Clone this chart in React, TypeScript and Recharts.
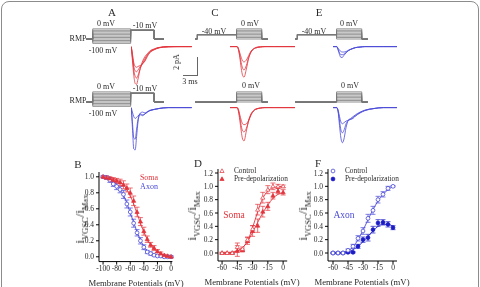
import React from 'react';
import { LineChart, Line, XAxis, YAxis, ComposedChart, Scatter, ErrorBar } from 'recharts';

const SERIF = '"Liberation Serif", "Times New Roman", serif';
const INK = '#2a2a2a';
const RED = '#e2343c';
const BLUE = '#4a4ad8';
const NAVY = '#1c1cc6';
const GRAY = '#777';

// ---- voltage protocols (ms / mV) ----
const RMP = -70;
const PRE_STEP = -40;
const TEST_STEP = -10;
const LEVELS_A = [-100, -90, -80, -70, -60, -50, -40, -30, -20, -10, 0];
const LEVELS_C = [-70, -60, -50, -40, -30, -20, -10, 0];
const PROTO_A_T = [0, 1.43, 1.43, 9.57, 9.57, 14.6, 14.6, 16.7];
const PROTO_C_T = [0, 0.5, 0.5, 8.9, 8.9, 14.3, 14.3, 15.6];

// ---- current traces (pA) sampled at TRACE_T (ms from step onset) ----
const TRACE_T = [-1.5, 0, 0.3, 0.6, 0.9, 1.2, 1.5, 2, 2.5, 3, 3.5, 4, 5, 6, 8, 10, 13];
const somaA1 = [0, 0, -1.5, -3.2, -4.1, -4.2, -3.6, -2.4, -1.6, -1.1, -0.8, -0.5, -0.25, -0.1, -0.05, 0, 0];
const somaA2 = [0, 0, -1.2, -2.6, -3.3, -3.5, -3.2, -2.4, -1.8, -1.3, -0.9, -0.6, -0.3, -0.1, 0, 0, 0];
const somaA3 = [0, 0, -1.0, -2.2, -2.7, -2.8, -2.6, -2.2, -1.9, -1.5, -1.0, -0.65, -0.3, -0.12, 0, 0, 0];
const somaA4 = [0, 0, -0.8, -1.8, -2.2, -2.3, -2.2, -2.1, -1.9, -1.6, -1.1, -0.7, -0.35, -0.15, 0, 0, 0];
const axonA1 = [0, 0, -2.2, -4.6, -4.7, -3.2, -1.6, -0.6, -0.5, -0.6, -0.45, -0.35, -0.2, -0.1, 0, 0, 0];
const axonA2 = [0, 0, -1.6, -3.4, -3.5, -2.4, -1.3, -0.7, -0.8, -0.7, -0.5, -0.35, -0.2, -0.1, 0, 0, 0];
const axonA3 = [0, 0, -0.5, -1.0, -1.2, -1.1, -0.9, -0.8, -0.9, -0.7, -0.5, -0.3, -0.2, -0.1, 0, 0, 0];
const somaPre1 = [0, 0, -0.3, -1.2, -2.4, -3.2, -3.4, -2.5, -1.3, -0.6, -0.3, -0.15, -0.05, 0, 0, 0, 0];
const somaPre2 = [0, 0, -0.3, -1.0, -1.8, -2.4, -2.6, -2.1, -1.2, -0.6, -0.3, -0.15, -0.05, 0, 0, 0, 0];
const somaPre3 = [0, 0, -0.2, -0.7, -1.2, -1.6, -1.7, -1.5, -1.0, -0.5, -0.25, -0.1, 0, 0, 0, 0, 0];
const somaCtl1 = [0, 0, -0.4, -1.4, -2.6, -3.5, -3.7, -2.6, -1.4, -0.7, -0.35, -0.15, -0.05, 0, 0, 0, 0];
const somaCtl2 = [0, 0, -0.3, -1.1, -2.0, -2.6, -2.7, -2.3, -1.5, -0.8, -0.4, -0.2, -0.05, 0, 0, 0, 0];
const somaCtl3 = [0, 0, -0.2, -0.8, -1.4, -1.8, -1.9, -1.8, -1.4, -0.8, -0.4, -0.2, -0.05, 0, 0, 0, 0];
const axonPre1 = [0, 0, -0.4, -0.9, -1.2, -1.2, -1.0, -0.7, -0.45, -0.3, -0.2, -0.12, -0.05, 0, 0, 0, 0];
const axonPre2 = [0, 0, -0.3, -0.7, -0.9, -0.9, -0.85, -0.65, -0.45, -0.3, -0.2, -0.12, -0.05, 0, 0, 0, 0];
const axonPre3 = [0, 0, -0.2, -0.4, -0.55, -0.6, -0.6, -0.55, -0.4, -0.3, -0.2, -0.1, -0.05, 0, 0, 0, 0];
const axonCtl1 = [0, 0, -0.5, -2.0, -3.4, -3.9, -3.6, -2.2, -1.4, -1.2, -1.0, -0.8, -0.5, -0.3, -0.1, 0, 0];
const axonCtl2 = [0, 0, -0.4, -1.5, -2.5, -2.8, -2.6, -1.8, -1.4, -1.3, -1.1, -0.9, -0.55, -0.3, -0.1, 0, 0];
const axonCtl3 = [0, 0, -0.3, -1.0, -1.6, -1.8, -1.7, -1.5, -1.4, -1.3, -1.2, -0.95, -0.6, -0.35, -0.1, 0, 0];

// ---- panel B: steady-state inactivation ----
const V_B = [-100, -95, -90, -85, -80, -75, -70, -65, -60, -55, -50, -45, -40, -35, -30, -25, -20, -15, -10, -5, 0];
const somaB = [1.0, 0.99, 0.98, 0.96, 0.95, 0.93, 0.9, 0.86, 0.8, 0.7, 0.56, 0.44, 0.32, 0.22, 0.15, 0.11, 0.07, 0.04, 0.02, 0.01, 0.0];
const somaBErr = [0.01, 0.02, 0.02, 0.03, 0.03, 0.04, 0.05, 0.05, 0.06, 0.06, 0.06, 0.05, 0.05, 0.04, 0.03, 0.03, 0.02, 0.02, 0.01, 0.01, 0.01];
const somaBFit = [1.0, 0.995, 0.99, 0.98, 0.96, 0.94, 0.9, 0.84, 0.76, 0.66, 0.54, 0.42, 0.31, 0.22, 0.15, 0.1, 0.06, 0.04, 0.02, 0.01, 0.0];
const axonB = [1.0, 0.99, 0.96, 0.91, 0.88, 0.84, 0.78, 0.66, 0.56, 0.42, 0.3, 0.2, 0.12, 0.06, 0.04, 0.02, 0.01, 0.01, 0.0, 0.0, 0.0];
const axonBErr = [0.01, 0.02, 0.03, 0.03, 0.04, 0.04, 0.05, 0.05, 0.05, 0.05, 0.04, 0.04, 0.03, 0.02, 0.02, 0.01, 0.01, 0.01, 0.01, 0.01, 0.01];
const axonBFit = [1.0, 0.99, 0.97, 0.94, 0.9, 0.85, 0.77, 0.67, 0.55, 0.43, 0.31, 0.21, 0.13, 0.08, 0.04, 0.02, 0.01, 0.0, 0.0, 0.0, 0.0];

// ---- panels D / F: activation ----
const V_DF = [-60, -55, -50, -45, -40, -35, -30, -25, -20, -15, -10, -5, 0];
const somaCtl = [0, 0, 0, 0.09, 0.06, 0.2, 0.36, 0.65, 0.83, 0.95, 1.0, 1.0, 1.0];
const somaCtlErr = [0.01, 0.01, 0.01, 0.06, 0.03, 0.04, 0.05, 0.08, 0.08, 0.06, 0.05, 0.03, 0.02];
const somaCtlFit = [0, 0, 0.01, 0.03, 0.08, 0.18, 0.38, 0.62, 0.82, 0.93, 0.98, 0.995, 1.0];
const somaPre = [0, 0, 0, 0.03, 0.04, 0.18, 0.33, 0.41, 0.62, 0.7, 0.86, 0.93, 0.91];
const somaPreErr = [0.01, 0.01, 0.01, 0.08, 0.02, 0.05, 0.08, 0.1, 0.08, 0.06, 0.05, 0.04, 0.04];
const somaPreFit = [0, 0, 0.01, 0.03, 0.08, 0.17, 0.31, 0.46, 0.6, 0.72, 0.82, 0.88, 0.9];
const axonCtl = [0, 0, 0, 0.04, 0.1, 0.22, 0.33, 0.52, 0.64, 0.8, 0.88, 0.97, 1.0];
const axonCtlErr = [0.01, 0.01, 0.01, 0.02, 0.03, 0.04, 0.05, 0.06, 0.06, 0.05, 0.04, 0.03, 0.01];
const axonCtlFit = [0, 0.005, 0.01, 0.03, 0.09, 0.2, 0.34, 0.5, 0.65, 0.78, 0.88, 0.95, 1.0];
const axonPre = [0, 0, 0, 0.01, 0.01, 0.1, 0.2, 0.23, 0.35, 0.45, 0.46, 0.43, 0.38];
const axonPreErr = [0.01, 0.01, 0.01, 0.01, 0.01, 0.03, 0.04, 0.05, 0.05, 0.05, 0.04, 0.04, 0.03];
const axonPreFit = [0, 0, 0.01, 0.02, 0.05, 0.1, 0.17, 0.25, 0.33, 0.4, 0.43, 0.43, 0.4];

const MS = 4.67; // px per ms
const MV = 0.145; // px per mV
const PA = 9; // px per pA

function Txt({ x, y, s = 8, c = INK, left = false, children }: any) {
  return (
    <div style={{ position: 'absolute', left: x, top: y, transform: left ? 'translate(0,-50%)' : 'translate(-50%,-50%)', willChange: 'transform', fontFamily: SERIF, fontSize: s, color: c, whiteSpace: 'nowrap', lineHeight: 1 }}>
      {children}
    </div>
  );
}

function Protocol({ left, zeroY, times, levels, pattern }: any) {
  const data = times.map((t: number, i: number) => {
    const row: any = { t };
    levels.forEach((L: number, j: number) => { row['l' + j] = pattern(L)[i]; });
    return row;
  });
  const tMax = times[times.length - 1];
  const yMin = -108, yMax = 6;
  return (
    <div style={{ position: 'absolute', left, top: zeroY - yMax * MV }}>
      <LineChart width={tMax * MS} height={(yMax - yMin) * MV} data={data} margin={{ top: 0, right: 0, bottom: 0, left: 0 }}>
        <XAxis dataKey="t" type="number" domain={[0, tMax]} hide />
        <YAxis type="number" domain={[yMin, yMax]} hide />
        {levels.map((_L: number, j: number) => (
          <Line key={j} dataKey={'l' + j} type="linear" stroke={GRAY} strokeWidth={0.8} dot={false} isAnimationActive={false} />
        ))}
      </LineChart>
    </div>
  );
}

function Traces({ left, baseY, t0, t1, traces, color }: any) {
  const data = TRACE_T.map((t, i) => {
    const row: any = { t };
    traces.forEach((tr: number[], j: number) => { row['c' + j] = tr[i]; });
    return row;
  });
  const yMin = -5.3, yMax = 0.4;
  return (
    <div style={{ position: 'absolute', left, top: baseY - yMax * PA }}>
      <LineChart width={(t1 - t0) * MS} height={(yMax - yMin) * PA} data={data} margin={{ top: 0, right: 0, bottom: 0, left: 0 }}>
        <XAxis dataKey="t" type="number" domain={[t0, t1]} allowDataOverflow hide />
        <YAxis type="number" domain={[yMin, yMax]} allowDataOverflow hide />
        {traces.map((_tr: number[], j: number) => (
          <Line key={j} dataKey={'c' + j} type="monotone" stroke={color} strokeWidth={0.8} dot={false} isAnimationActive={false} />
        ))}
      </LineChart>
    </div>
  );
}

function shapeAt(kind: string, cx: number, cy: number, color: string) {
  const open = kind.endsWith('Open');
  if (kind.startsWith('tri')) {
    return <path d={`M${cx},${cy - 2.2}L${cx + 2.1},${cy + 1.5}L${cx - 2.1},${cy + 1.5}Z`} fill={open ? '#fff' : color} stroke={color} strokeWidth={0.7} />;
  }
  return <circle cx={cx} cy={cy} r={1.9} fill={open ? '#fff' : color} stroke={color} strokeWidth={0.8} />;
}

function Mark({ x, y, kind, color }: any) {
  return (
    <svg style={{ position: 'absolute', left: x - 4, top: y - 4 }} width={8} height={8}>
      {shapeAt(kind, 4, 4, color)}
    </svg>
  );
}

function YLabel({ x, y }: any) {
  return (
    <div style={{ position: 'absolute', left: x, top: y, transform: 'translate(-50%,-50%) rotate(-90deg)', willChange: 'transform', whiteSpace: 'nowrap', fontFamily: SERIF, fontSize: 13, lineHeight: 1, color: INK }}>
      i<sub style={{ fontSize: 8.5 }}>VGSC</sub>/i<sub style={{ fontSize: 8.5 }}>Max</sub>
    </div>
  );
}

function IvChart({ x0, x1, y0, y1, xDomain, yDomain, xTicks, yTicks, data, series }: any) {
  const YW = 30, XH = 18, MT = 4, MR = 4;
  const tick = { fontSize: 7.5, fontFamily: SERIF, fill: INK };
  return (
    <div style={{ position: 'absolute', left: x0 - YW, top: y0 - MT }}>
      <ComposedChart width={x1 - x0 + YW + MR} height={y1 - y0 + MT + XH} data={data} margin={{ top: MT, right: MR, left: 0, bottom: 0 }}>
        <XAxis dataKey="v" type="number" domain={xDomain} ticks={xTicks} interval={0} height={XH} tickSize={3} tickMargin={1}
          tick={tick} axisLine={{ stroke: '#000' }} tickLine={{ stroke: '#000' }} />
        <YAxis type="number" domain={yDomain} ticks={yTicks} interval={0} width={YW} tickSize={3} tickMargin={2}
          tick={tick} tickFormatter={(v: number) => v.toFixed(1)} axisLine={{ stroke: '#000' }} tickLine={{ stroke: '#000' }} />
        {series.map((s: any) => (
          <Line key={s.key + 'fit'} dataKey={s.key + 'Fit'} type="monotone" stroke={s.color} strokeWidth={0.9} dot={false} isAnimationActive={false} />
        ))}
        {series.map((s: any) => (
          <Scatter key={s.key} dataKey={s.key} isAnimationActive={false} shape={(p: any) => shapeAt(s.kind, p.cx, p.cy, s.color)}>
            <ErrorBar dataKey={s.key + 'Err'} direction="y" width={2.5} stroke={s.color} strokeWidth={0.7} />
          </Scatter>
        ))}
      </ComposedChart>
    </div>
  );
}

const dataB = V_B.map((v, i) => ({
  v, soma: somaB[i], somaErr: somaBErr[i], somaFit: somaBFit[i], axon: axonB[i], axonErr: axonBErr[i], axonFit: axonBFit[i],
}));
const dataD = V_DF.map((v, i) => ({
  v, ctl: somaCtl[i], ctlErr: somaCtlErr[i], ctlFit: somaCtlFit[i], pre: somaPre[i], preErr: somaPreErr[i], preFit: somaPreFit[i],
}));
const dataF = V_DF.map((v, i) => ({
  v, ctl: axonCtl[i], ctlErr: axonCtlErr[i], ctlFit: axonCtlFit[i], pre: axonPre[i], preErr: axonPreErr[i], preFit: axonPreFit[i],
}));

const patA = (L: number) => [RMP, RMP, L, L, TEST_STEP, TEST_STEP, RMP, RMP];
const patPre = (L: number) => [RMP, RMP, PRE_STEP, PRE_STEP, L, L, RMP, RMP];
const patCtl = (L: number) => [RMP, RMP, RMP, RMP, L, L, RMP, RMP];

const Y_TICKS_B = [0, 0.2, 0.4, 0.6, 0.8, 1.0];
const Y_TICKS_DF = [0, 0.2, 0.4, 0.6, 0.8, 1.0, 1.2];

export default function App() {
  return (
    <div style={{ position: 'fixed', left: 0, top: 0, width: 480, height: 287, overflow: 'hidden', background: '#fff', fontFamily: SERIF }}>
      <div style={{ position: 'absolute', left: 1, top: 1, width: 476, height: 330, border: '1px solid #8c8c8c', borderRadius: 8 }} />

      {/* panel letters */}
      <Txt x={112} y={12} s={11}>A</Txt>
      <Txt x={215} y={12} s={11}>C</Txt>
      <Txt x={319} y={12} s={11}>E</Txt>

      {/* A: protocols */}
      <Protocol left={86} zeroY={29} times={PROTO_A_T} levels={LEVELS_A} pattern={patA} />
      <Protocol left={86} zeroY={92} times={PROTO_A_T} levels={LEVELS_A} pattern={patA} />
      <Txt x={106} y={24}>0 mV</Txt>
      <Txt x={145} y={26}>-10 mV</Txt>
      <Txt x={78} y={39}>RMP</Txt>
      <Txt x={103} y={51}>-100 mV</Txt>
      <Txt x={106} y={87}>0 mV</Txt>
      <Txt x={145} y={89}>-10 mV</Txt>
      <Txt x={78} y={101}>RMP</Txt>
      <Txt x={103} y={114}>-100 mV</Txt>
      <Traces left={131} baseY={47} t0={0} t1={13.3} traces={[somaA1, somaA2, somaA3, somaA4]} color={RED} />
      <Traces left={131} baseY={108} t0={0} t1={13.3} traces={[axonA1, axonA2, axonA3]} color={BLUE} />

      {/* scale bar */}
      <div style={{ position: 'absolute', left: 196.5, top: 57, width: 0, height: 18, borderLeft: '1px solid #666' }} />
      <div style={{ position: 'absolute', left: 183, top: 75, width: 14.5, height: 0, borderTop: '1px solid #666' }} />
      <div style={{ position: 'absolute', left: 177, top: 62, transform: 'translate(-50%,-50%) rotate(-90deg)', willChange: 'transform', fontFamily: SERIF, fontSize: 8, color: INK, whiteSpace: 'nowrap', lineHeight: 1 }}>2 pA</div>
      <Txt x={190} y={82}>3 ms</Txt>

      {/* C */}
      <Protocol left={195} zeroY={29} times={PROTO_C_T} levels={LEVELS_C} pattern={patPre} />
      <Protocol left={195} zeroY={92} times={PROTO_C_T} levels={LEVELS_C} pattern={patCtl} />
      <Txt x={214} y={32}>-40 mV</Txt>
      <Txt x={250} y={24}>0 mV</Txt>
      <Txt x={251} y={86}>0 mV</Txt>
      <Traces left={230} baseY={47} t0={-1.5} t1={12.4} traces={[somaPre1, somaPre2, somaPre3]} color={RED} />
      <Traces left={230} baseY={108} t0={-1.5} t1={12.4} traces={[somaCtl1, somaCtl2, somaCtl3]} color={RED} />

      {/* E */}
      <Protocol left={295} zeroY={29} times={PROTO_C_T} levels={LEVELS_C} pattern={patPre} />
      <Protocol left={295} zeroY={92} times={PROTO_C_T} levels={LEVELS_C} pattern={patCtl} />
      <Txt x={314} y={32}>-40 mV</Txt>
      <Txt x={349} y={24}>0 mV</Txt>
      <Txt x={350} y={86}>0 mV</Txt>
      <Traces left={333.3} baseY={47} t0={-0.8} t1={12.9} traces={[axonPre1, axonPre2, axonPre3]} color={BLUE} />
      <Traces left={333.3} baseY={108} t0={-0.8} t1={12.9} traces={[axonCtl1, axonCtl2, axonCtl3]} color={BLUE} />

      {/* B */}
      <Txt x={78} y={164} s={11}>B</Txt>
      <YLabel x={81} y={219} />
      <IvChart x0={99} x1={172.4} y0={172.2} y1={261.8} xDomain={[-106, 2]} yDomain={[-0.06, 1.06]}
        xTicks={[-100, -80, -60, -40, -20, 0]} yTicks={Y_TICKS_B} data={dataB}
        series={[
          { key: 'axon', color: BLUE, kind: 'circOpen' },
          { key: 'soma', color: RED, kind: 'triFill' },
        ]} />
      <Txt x={149} y={178} c={RED}>Soma</Txt>
      <Txt x={149} y={187} c={BLUE}>Axon</Txt>
      <Txt x={136} y={283} s={8.7}>Membrane Potentials (mV)</Txt>

      {/* D */}
      <Txt x={198} y={163} s={11}>D</Txt>
      <YLabel x={193} y={216} />
      <IvChart x0={218} x1={287.2} y0={169} y1={261} xDomain={[-64, 4]} yDomain={[-0.12, 1.26]}
        xTicks={[-60, -45, -30, -15, 0]} yTicks={Y_TICKS_DF} data={dataD}
        series={[
          { key: 'pre', color: RED, kind: 'triFill' },
          { key: 'ctl', color: RED, kind: 'triOpen' },
        ]} />
      <Mark x={222} y={171} kind="triOpen" color={RED} />
      <Mark x={222} y={179} kind="triFill" color={RED} />
      <Txt x={234} y={171} s={7.3} left>Control</Txt>
      <Txt x={234} y={179} s={7.3} left>Pre-depolarization</Txt>
      <Txt x={234} y={216} s={9.5} c={RED}>Soma</Txt>
      <Txt x={252} y={282} s={8.7}>Membrane Potentials (mV)</Txt>

      {/* F */}
      <Txt x={318} y={163} s={11}>F</Txt>
      <YLabel x={304} y={216} />
      <IvChart x0={328} x1={397} y0={169} y1={261} xDomain={[-65, 4]} yDomain={[-0.12, 1.26]}
        xTicks={[-60, -45, -30, -15, 0]} yTicks={Y_TICKS_DF} data={dataF}
        series={[
          { key: 'pre', color: NAVY, kind: 'circFill' },
          { key: 'ctl', color: BLUE, kind: 'circOpen' },
        ]} />
      <Mark x={333} y={171} kind="circOpen" color={BLUE} />
      <Mark x={333} y={179} kind="circFill" color={NAVY} />
      <Txt x={345} y={171} s={7.3} left>Control</Txt>
      <Txt x={345} y={179} s={7.3} left>Pre-depolarization</Txt>
      <Txt x={344} y={216} s={9.5} c={BLUE}>Axon</Txt>
      <Txt x={362} y={282} s={8.7}>Membrane Potentials (mV)</Txt>
    </div>
  );
}
